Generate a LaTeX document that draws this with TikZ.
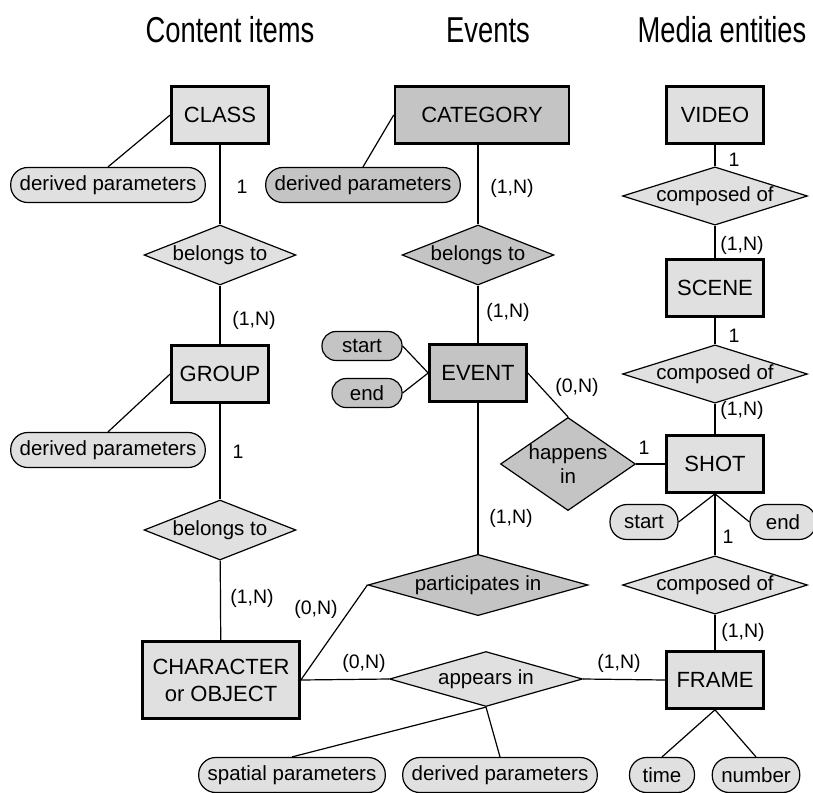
\documentclass[tikz,border=0pt]{standalone}
\usepackage{fontspec}
\setmainfont{Liberation Sans}
\newfontfamily\titlefont[FakeStretch=0.76]{Liberation Sans}
\usetikzlibrary{shapes.geometric}

\definecolor{contentgray}{gray}{0.88}
\definecolor{eventgray}{gray}{0.77}

\tikzset{
	entity/.style = {draw, line width = 2.6pt, fill = contentgray, minimum width = 97pt, minimum height = 57pt, align = center, font = \fontsize{22}{27}\selectfont},
	relation/.style = {draw, line width = 1.2pt, diamond, aspect = 3, inner sep = 0pt, fill = contentgray, minimum width = 147pt, minimum height = 60pt, align = center, font = \fontsize{20.5}{24}\selectfont},
	attribute/.style = {draw, line width = 1.2pt, rounded corners = 17pt, fill = contentgray, minimum height = 35pt, minimum width = 65pt, inner xsep = 9pt, font = \fontsize{20.5}{24}\selectfont},
	eventfill/.style = {fill = eventgray},
	card/.style = {font = \fontsize{19.5}{24}\selectfont},
	title/.style = {anchor = base, font = \titlefont\fontsize{36}{40}\selectfont},
	link/.style = {line width = 1.2pt}
}

\begin{document}
\begin{tikzpicture}[x = 1pt, y = -1pt]
		\useasboundingbox (0, 0) rectangle (813, 792);
		% column titles
		\node[title] (tcontent) at (230, 43) {Content items};
		\node[title] (tevents) at (488, 43) {Events};
		\node[title] (tmedia) at (722, 43) {Media entities};
		% content items
		\node[entity] (class) at (220, 115) {CLASS};
		\node[attribute] (classpar) at (108, 185) {derived parameters};
		\node[relation] (belongsclass) at (220, 255) {belongs to};
		\node[entity] (group) at (220, 374) {GROUP};
		\node[attribute] (grouppar) at (108, 450) {derived parameters};
		\node[relation] (belongsgroup) at (220, 530) {belongs to};
		\node[entity, minimum width = 157pt, minimum height = 77pt] (object) at (221, 680) {CHARACTER\\or OBJECT};
		% events
		\node[entity, eventfill, minimum width = 174pt] (category) at (482, 115) {CATEGORY};
		\node[attribute, eventfill] (catpar) at (363, 185) {derived parameters};
		\node[relation, eventfill] (belongscat) at (478, 255) {belongs to};
		\node[entity, eventfill] (event) at (478, 373) {EVENT};
		\node[attribute, eventfill, rounded corners = 14pt, minimum width = 80pt, minimum height = 29pt] (evstart) at (362, 346) {start};
		\node[attribute, eventfill, rounded corners = 14pt, minimum width = 70pt, minimum height = 29pt] (evend) at (367, 393) {end};
		\node[relation, eventfill, aspect = 1.45, minimum width = 129pt, minimum height = 88pt] (happens) at (568, 464) {happens\\in};
		\node[relation, eventfill, minimum width = 220pt, minimum height = 56pt] (partic) at (478, 585) {participates in};
		\node[relation, minimum width = 193pt, minimum height = 55pt] (appears) at (486, 679) {appears in};
		\node[attribute] (spatialpar) at (292, 775) {spatial parameters};
		\node[attribute] (appearpar) at (500, 775) {derived parameters};
		% media entities
		\node[entity] (video) at (715, 115) {VIDEO};
		\node[relation, minimum width = 185pt, minimum height = 56pt] (compvideo) at (715, 196) {composed of};
		\node[entity] (scene) at (715, 288) {SCENE};
		\node[relation, minimum width = 185pt, minimum height = 56pt] (compscene) at (715, 374) {composed of};
		\node[entity] (shot) at (715, 464) {SHOT};
		\node[attribute, minimum width = 68pt] (shotstart) at (644, 522) {start};
		\node[attribute, minimum width = 66pt] (shotend) at (783, 522) {end};
		\node[relation, minimum width = 185pt, minimum height = 56pt] (compshot) at (715, 585) {composed of};
		\node[entity] (frame) at (715, 680) {FRAME};
		\node[attribute] (frametime) at (662, 775) {time};
		\node[attribute] (framenum) at (756, 775) {number};
		% connectors
		\foreach \a/\b in {class/belongsclass, belongsclass/group, group/belongsgroup, belongsgroup/object, belongscat/event, event/partic, video/compvideo, compvideo/scene, scene/compscene, compscene/shot, shot/compshot, compshot/frame}
			\draw[link] (\a) -- (\b);
		\draw[link] (category.south -| belongscat) -- (belongscat.north);
		\draw[link] (classpar.north) -- (class.west);
		\draw[link] (grouppar.north) -- (group.west);
		\draw[link] (catpar.north) -- (category.west);
		\draw[link] (evstart.east) -- (event.west);
		\draw[link] (evend.east) -- (event.west);
		\draw[link] (event.east) -- (happens.north);
		\draw[link] (happens.east) -- (shot.west);
		\draw[link] (object.east) -- (partic.west);
		\draw[link] (object.east) -- (appears.west);
		\draw[link] (appears.east) -- (frame.west);
		\draw[link] (appears.south) -- (spatialpar.north);
		\draw[link] (appears.south) -- (appearpar.north);
		\draw[link] (shot.south) -- (shotstart.east);
		\draw[link] (shot.south) -- (shotend.west);
		\draw[link] (frame.south) -- (frametime.north);
		\draw[link] (frame.south) -- (framenum.north);
		% cardinalities
		\foreach \n/\x/\y/\t in {k1/242/187/1, k2/254/320/{(1,N)}, k3/238/452/1, k4/252/598/{(1,N)}, k5/316/609/{(0,N)}, k6/364/663/{(0,N)}, k7/512/188/{(1,N)}, k8/508/312/{(1,N)}, k9/577/387/{(0,N)}, k10/511/518/{(1,N)}, k11/644/448/1, k12/619/663/{(1,N)}, k13/734/160/1, k14/742/245/{(1,N)}, k15/734/336/1, k16/742/410/{(1,N)}, k17/728/537/1, k18/743/632/{(1,N)}}
			\node[card] (\n) at (\x, \y) {\t};
\end{tikzpicture}
\end{document}
